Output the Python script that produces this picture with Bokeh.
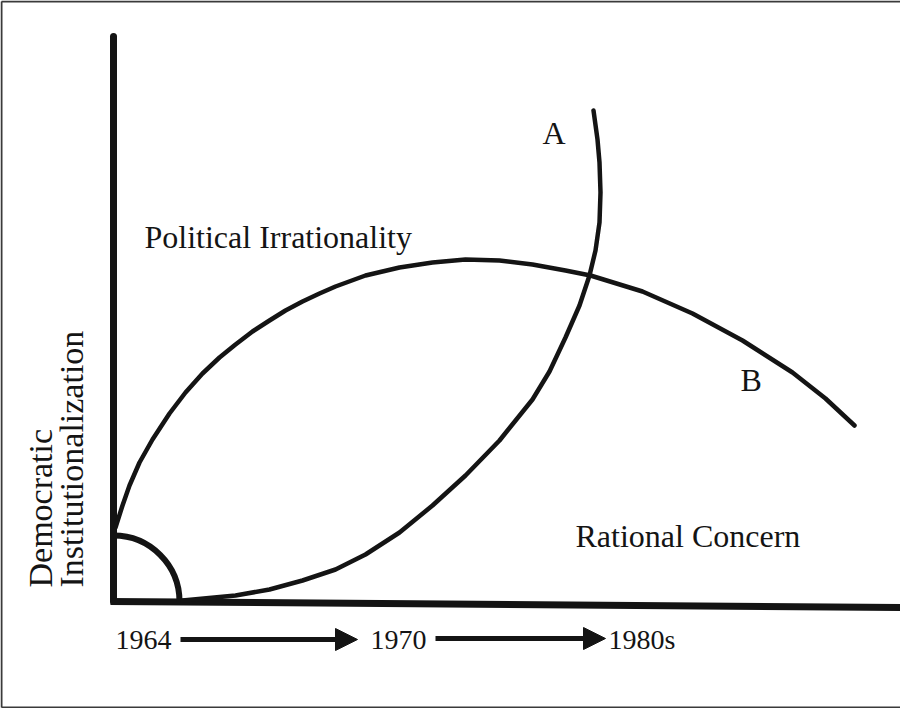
import numpy as np
from bokeh.plotting import figure
from bokeh.models import Range1d, Arrow, NormalHead
from bokeh.core.properties import value
from bokeh.embed import file_html
from bokeh.resources import INLINE

# ---- data (conceptual diagram coordinates; origin at the axes corner) ----
# Curve B: "Political Irrationality" path rising from the vertical axis
curve_b_x = [2, 9, 16, 26, 39, 56, 72, 89, 106, 122, 139, 156, 172, 189, 206,
             222, 252, 286, 319, 352, 386, 419, 452, 477, 529, 579, 629, 679,
             712, 741]
curve_b_y = [74, 96, 116, 139, 162, 188, 209, 228, 244, 257, 270, 281, 291,
             300, 308, 315, 326, 334, 339, 342, 341, 337, 331, 326, 310, 288,
             261, 229, 203, 176]

# Curve A: path leaving the horizontal axis and rising steeply
curve_a_x = [69, 122, 156, 189, 222, 252, 286, 319, 352, 386, 419, 436, 452,
             466, 476, 482, 486, 487, 486, 484, 480]
curve_a_y = [1, 6, 12, 21, 32, 47, 69, 96, 126, 161, 202, 230, 264,
             296, 326, 351, 379, 409, 439, 462, 491]

# quarter arc at origin
arc_radius = [66]

# axes extents
y_axis_x = [0, 0]
y_axis_y = [0, 565]
x_axis_x = [-3, 795]
x_axis_y = [0, -6]

# region labels
label_text = ["Political Irrationality", "Rational Concern", "A", "B"]
label_x = [31, 462, 429, 627]
label_y = [365, 66, 469, 222]

# time labels
year_text = ["1964", "1970", "1980s"]
year_x = [2, 257, 495]
year_y = [-38, -38, -38]

# arrows between years
arrow_x0 = [67, 322]
arrow_x1 = [244, 492]
arrow_y = [-38, -37]

# vertical axis title (two lines)
title_text = ["Democratic", "Institutionalization"]
title_x = [-73, -42]
title_y = [14, 14]

INK = "#141414"
SERIF = value("Liberation Serif")

p = figure(width=900, height=708,
           x_range=Range1d(-113, 787), y_range=Range1d(-107, 601),
           x_axis_type=None, y_axis_type=None,
           output_backend="svg", toolbar_location=None, min_border=0)
p.grid.visible = False
p.outline_line_color = None
p.background_fill_color = "white"
p.border_fill_color = "white"

# outer frame (left, top, bottom edges)
p.multi_line(xs=[[-112, -112], [-112, 787], [-112, 787]],
             ys=[[-106, 600], [600, 600], [-106, -106]],
             line_color="#3a3a3a", line_width=2)

# axes
p.line(y_axis_x, y_axis_y, line_color=INK, line_width=7, line_cap="round")
p.line(x_axis_x, x_axis_y, line_color=INK, line_width=7, line_cap="butt")

# quarter arc
p.arc(x=[0], y=[0], radius=arc_radius, start_angle=0, end_angle=np.pi / 2,
      line_color=INK, line_width=6)

# curves
p.line(curve_b_x, curve_b_y, line_color=INK, line_width=4.5,
       line_cap="round", line_join="round")
p.line(curve_a_x, curve_a_y, line_color=INK, line_width=4.5,
       line_cap="round", line_join="round")

# labels
p.text(x=label_x, y=label_y, text=label_text, text_font=SERIF,
       text_font_size="32px", text_baseline="alphabetic", text_align="left",
       text_color=INK)
p.text(x=year_x, y=year_y, text=year_text, text_font=SERIF,
       text_font_size="28px", text_baseline="middle", text_align="left",
       text_color=INK)
p.text(x=title_x, y=title_y, text=title_text, text_font=SERIF,
       text_font_size="34px", text_baseline="alphabetic", text_align="left",
       angle=np.pi / 2, text_color=INK)

# arrows
for x0, x1, y in zip(arrow_x0, arrow_x1, arrow_y):
    p.add_layout(Arrow(end=NormalHead(size=22, fill_color=INK, line_color=INK),
                       x_start=x0, y_start=y, x_end=x1, y_end=y,
                       line_color=INK, line_width=5))

open("out.html", "w").write(file_html(p, INLINE))
